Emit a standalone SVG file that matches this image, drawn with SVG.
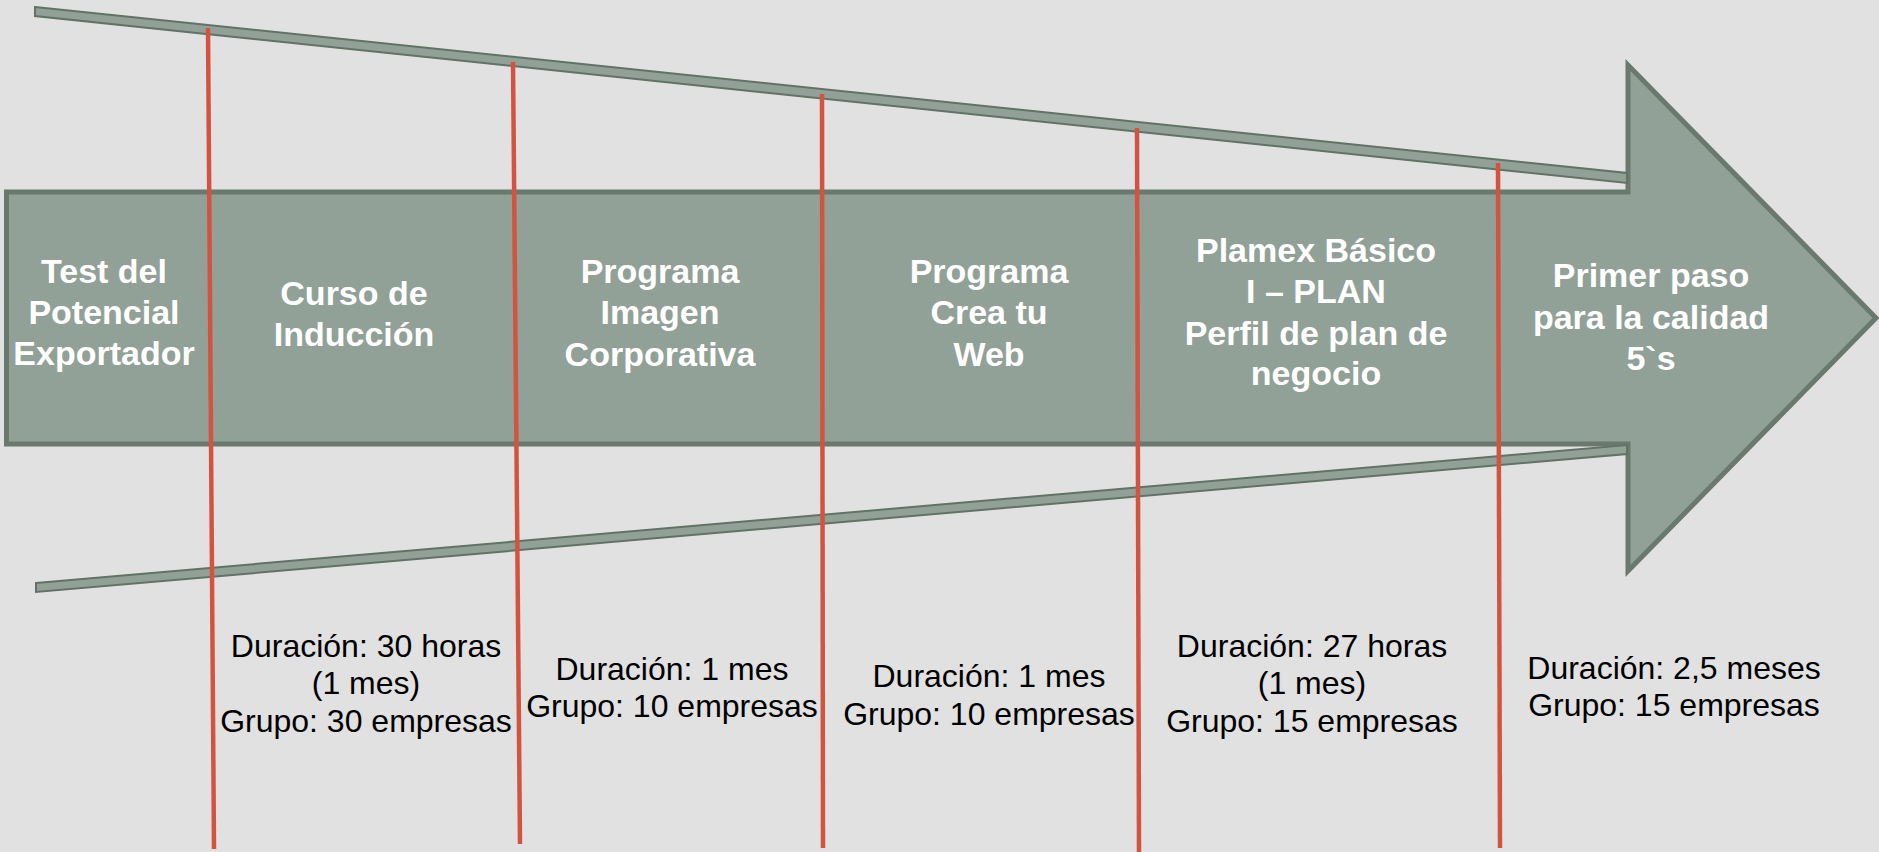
<svg xmlns="http://www.w3.org/2000/svg" width="1879" height="852" viewBox="0 0 1879 852">
<style>
.shape{fill:#92a197;stroke:#6a796e;stroke-linejoin:miter}
.bar{fill:#92a197;stroke:#627266;stroke-width:2}
.div{stroke:#d25440;stroke-width:4.5;fill:none}
.t{font-family:"Liberation Sans",Arial,sans-serif;font-weight:bold;font-size:34px;fill:#ffffff;text-anchor:middle}
.d{font-family:"Liberation Sans",Arial,sans-serif;font-size:32px;fill:#000000;text-anchor:middle}
</style>
<rect x="0" y="0" width="1879" height="852" fill="#e1e1e1"/>
<g id="arrow">
<polygon class="shape" stroke-width="5" points="6.5,192 1628,192 1628,65 1876,318 1628,571 1628,444 6.5,444"/>
</g>
<g id="upper-bar">
<polygon class="bar" points="35,7 1627,173 1627,183 35,16"/>
</g>
<g id="lower-bar">
<polygon class="bar" points="36,583 1627,445 1627,454 36,592"/>
</g>
<g id="connectors">
<line class="div" x1="208" y1="28" x2="214" y2="849"/>
<line class="div" x1="513" y1="62" x2="520" y2="844"/>
<line class="div" x1="822" y1="94" x2="823" y2="848"/>
<line class="div" x1="1137" y1="128" x2="1139" y2="852"/>
<line class="div" x1="1498" y1="163" x2="1500" y2="848"/>
</g>
<g id="stage-test">
<text class="t" x="104" y="283">Test del</text>
<text class="t" x="104" y="324">Potencial</text>
<text class="t" x="104" y="365">Exportador</text>
</g>
<g id="stage-curso">
<text class="t" x="354" y="305">Curso de</text>
<text class="t" x="354" y="346">Inducción</text>
<text class="d" x="366" y="657">Duración: 30 horas</text>
<text class="d" x="366" y="694">(1 mes)</text>
<text class="d" x="366" y="732">Grupo: 30 empresas</text>
</g>
<g id="stage-imagen">
<text class="t" x="660" y="283">Programa</text>
<text class="t" x="660" y="324">Imagen</text>
<text class="t" x="660" y="366">Corporativa</text>
<text class="d" x="672" y="680">Duración: 1 mes</text>
<text class="d" x="672" y="717">Grupo: 10 empresas</text>
</g>
<g id="stage-web">
<text class="t" x="989" y="283">Programa</text>
<text class="t" x="989" y="324">Crea tu</text>
<text class="t" x="989" y="366">Web</text>
<text class="d" x="989" y="687">Duración: 1 mes</text>
<text class="d" x="989" y="725">Grupo: 10 empresas</text>
</g>
<g id="stage-plamex">
<text class="t" x="1316" y="262">Plamex Básico</text>
<text class="t" x="1316" y="303">I – PLAN</text>
<text class="t" x="1316" y="345">Perfil de plan de</text>
<text class="t" x="1316" y="385">negocio</text>
<text class="d" x="1312" y="657">Duración: 27 horas</text>
<text class="d" x="1312" y="694">(1 mes)</text>
<text class="d" x="1312" y="732">Grupo: 15 empresas</text>
</g>
<g id="stage-5s">
<text class="t" x="1651" y="287">Primer paso</text>
<text class="t" x="1651" y="329">para la calidad</text>
<text class="t" x="1651" y="370">5`s</text>
<text class="d" x="1674" y="679">Duración: 2,5 meses</text>
<text class="d" x="1674" y="716">Grupo: 15 empresas</text>
</g>
</svg>
